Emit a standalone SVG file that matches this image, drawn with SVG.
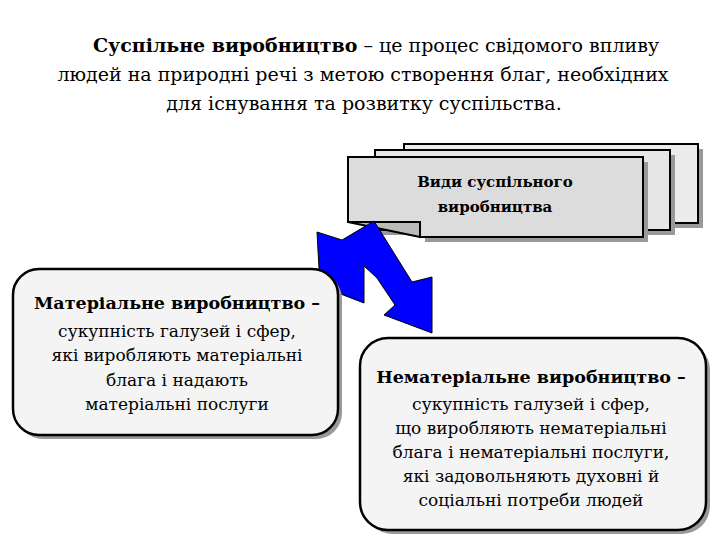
<svg xmlns="http://www.w3.org/2000/svg" width="720" height="540" viewBox="0 0 720 540" font-family="DejaVu Serif, serif">
<style>
.t{font-size:19px}
.b{font-size:17.5px;font-weight:bold}
.n{font-size:17px}
.box{fill:#f4f4f4;stroke:#000;stroke-width:2.5}
.pg{stroke:#000;stroke-width:2}
</style>
<rect width="720" height="540" fill="#fff"/>
<g id="title">
<text class="t" x="376" y="52" text-anchor="middle"><tspan font-weight="bold">Суспільне виробництво</tspan> – це процес свідомого впливу</text>
<text class="t" x="363" y="81" text-anchor="middle">людей на природні речі з метою створення благ, необхідних</text>
<text class="t" x="364" y="110" text-anchor="middle">для існування та розвитку суспільства.</text>
</g>
<g id="kinds">
<rect x="409" y="149" width="294" height="79" fill="#999"/>
<rect x="404" y="144" width="294" height="79" fill="#ececec" class="pg"/>
<rect x="380" y="155" width="295" height="80" fill="#999"/>
<rect x="375" y="150" width="295" height="80" fill="#e6e6e6" class="pg"/>
<path d="M353 162 H648 V242 H425 V229 Z" fill="#999"/>
<path d="M348 157 H643 V237 H420 V222 H348 Z" fill="#dcdcdc" class="pg"/>
<path d="M348 222 H420 V237 Z" fill="#bbb" class="pg"/>
<text font-size="15px" font-weight="bold" x="495" y="187" text-anchor="middle">Види суспільного</text>
<text font-size="15px" font-weight="bold" x="495" y="212" text-anchor="middle">виробництва</text>
</g>
<g id="connectors">
<polygon points="374,221 412,282 432,277 432,333 384,315 395,305 377,278 364,266 364,303 320,286 317,232 342,240" fill="#0000ff" stroke="#000" stroke-width="1"/>
</g>
<g id="material">
<rect x="17" y="273" width="325" height="166" rx="26" fill="#999"/>
<rect x="13" y="269" width="325" height="166" rx="26" class="box"/>
<text class="b" x="177" y="309" text-anchor="middle">Матеріальне виробництво –</text>
<text class="n" x="177" y="337" text-anchor="middle">сукупність галузей і сфер,</text>
<text class="n" x="177" y="361" text-anchor="middle">які виробляють матеріальні</text>
<text class="n" x="177" y="386" text-anchor="middle">блага і надають</text>
<text class="n" x="177" y="410" text-anchor="middle">матеріальні послуги</text>
</g>
<g id="nonmaterial">
<rect x="364" y="342" width="346" height="192" rx="28" fill="#999"/>
<rect x="360" y="338" width="346" height="192" rx="28" class="box"/>
<text class="b" x="531" y="383" text-anchor="middle">Нематеріальне виробництво –</text>
<text class="n" x="531" y="410" text-anchor="middle">сукупність галузей і сфер,</text>
<text class="n" x="531" y="434" text-anchor="middle">що виробляють нематеріальні</text>
<text class="n" x="531" y="458" text-anchor="middle">блага і нематеріальні послуги,</text>
<text class="n" x="531" y="482" text-anchor="middle">які задовольняють духовні й</text>
<text class="n" x="531" y="506" text-anchor="middle">соціальні потреби людей</text>
</g>
</svg>
